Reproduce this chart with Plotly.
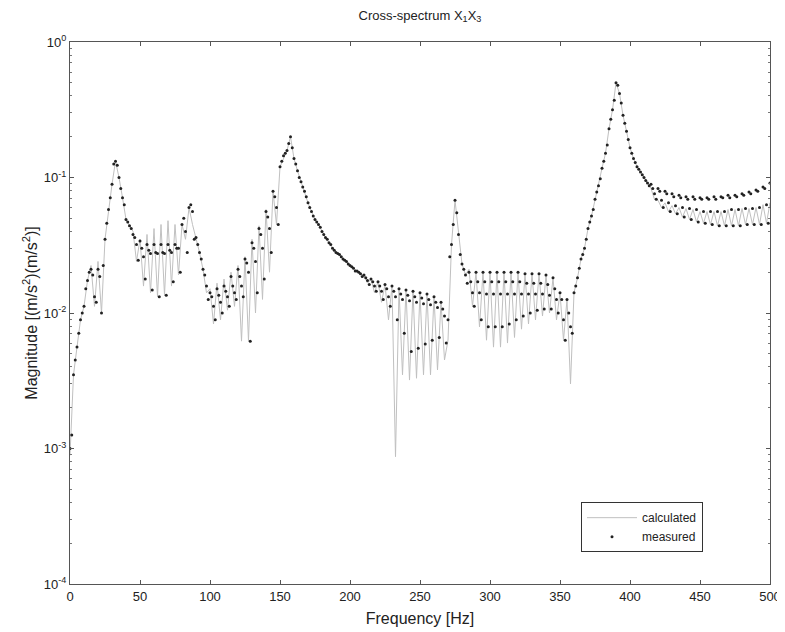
import plotly.graph_objects as go

# Frequency grid (Hz), 5 Hz cells
freq_start, freq_step, n_cells = 0.0, 5.0, 101

# Measured magnitude, four interleaved sample rows per 5 Hz cell
meas_a = [0.0010, 0.0056, 0.0112, 0.021, 0.021, 0.035, 0.089, 0.100, 0.049, 0.038,
          0.034, 0.032, 0.032, 0.032, 0.032, 0.032, 0.045, 0.060, 0.036, 0.021,
          0.0141, 0.0151, 0.0158, 0.0186, 0.021, 0.025, 0.033, 0.042, 0.056, 0.079,
          0.120, 0.158, 0.138, 0.093, 0.065, 0.049, 0.040, 0.033, 0.028, 0.025,
          0.0224, 0.0204, 0.0191, 0.0178, 0.0170, 0.0162, 0.0158, 0.0151, 0.0148, 0.0145,
          0.0141, 0.0138, 0.0132, 0.0120, 0.0089, 0.068, 0.023, 0.020, 0.020, 0.020,
          0.020, 0.020, 0.020, 0.020, 0.020, 0.0195, 0.0195, 0.0195, 0.0191, 0.0182,
          0.0141, 0.0126, 0.0141, 0.025, 0.042, 0.069, 0.117, 0.229, 0.50, 0.288,
          0.166, 0.120, 0.100, 0.089, 0.083, 0.079, 0.076, 0.074, 0.072, 0.072,
          0.071, 0.071, 0.072, 0.072, 0.074, 0.074, 0.076, 0.078, 0.081, 0.085, 0.091]
meas_b = [0.00126, 0.0071, 0.0151, 0.0191, 0.0186, 0.046, 0.126, 0.083, 0.047, 0.036,
          0.030, 0.029, 0.028, 0.028, 0.029, 0.030, 0.050, 0.063, 0.032, 0.0191,
          0.0132, 0.0135, 0.0145, 0.0158, 0.0186, 0.0234, 0.030, 0.038, 0.051, 0.072,
          0.132, 0.178, 0.126, 0.085, 0.060, 0.047, 0.038, 0.032, 0.0275, 0.0245,
          0.0219, 0.0200, 0.0182, 0.0170, 0.0158, 0.0151, 0.0145, 0.0138, 0.0135, 0.0132,
          0.0129, 0.0126, 0.0120, 0.0107, 0.026, 0.055, 0.021, 0.0170, 0.0170, 0.0170,
          0.0170, 0.0170, 0.0170, 0.0170, 0.0170, 0.0166, 0.0166, 0.0166, 0.0162, 0.0151,
          0.0126, 0.0100, 0.0158, 0.027, 0.047, 0.078, 0.132, 0.269, 0.479, 0.251,
          0.151, 0.115, 0.095, 0.083, 0.079, 0.076, 0.072, 0.071, 0.069, 0.069,
          0.069, 0.069, 0.069, 0.071, 0.071, 0.072, 0.074, 0.076, 0.079, 0.083, 0.089]
meas_c = [0.0035, 0.0089, 0.0174, 0.0132, 0.0100, 0.058, 0.132, 0.071, 0.044, 0.032,
          0.026, 0.0275, 0.0275, 0.0275, 0.028, 0.030, 0.040, 0.056, 0.028, 0.0158,
          0.0112, 0.0120, 0.0132, 0.0141, 0.0158, 0.0200, 0.024, 0.030, 0.042, 0.060,
          0.145, 0.200, 0.112, 0.079, 0.056, 0.045, 0.036, 0.030, 0.027, 0.024,
          0.0214, 0.0195, 0.0174, 0.0158, 0.0145, 0.0132, 0.0132, 0.0126, 0.0123, 0.0120,
          0.0117, 0.0115, 0.0110, 0.0095, 0.032, 0.038, 0.0191, 0.0141, 0.0141, 0.0138,
          0.0138, 0.0138, 0.0138, 0.0138, 0.0138, 0.0138, 0.0138, 0.0138, 0.0135, 0.0126,
          0.0089, 0.0079, 0.0182, 0.030, 0.052, 0.087, 0.151, 0.316, 0.417, 0.219,
          0.138, 0.110, 0.091, 0.076, 0.068, 0.065, 0.062, 0.060, 0.059, 0.058,
          0.056, 0.056, 0.056, 0.056, 0.058, 0.058, 0.059, 0.059, 0.060, 0.063, 0.065]
meas_d = [0.0045, 0.0100, 0.0200, 0.0120, 0.0224, 0.071, 0.123, 0.063, 0.042, 0.0245,
          0.0178, 0.0148, 0.0132, 0.0135, 0.0170, 0.0200, 0.028, 0.035, 0.025, 0.0126,
          0.0089, 0.0100, 0.0112, 0.0126, 0.0132, 0.0062, 0.0141, 0.0178, 0.028, 0.045,
          0.151, 0.166, 0.100, 0.072, 0.052, 0.043, 0.035, 0.029, 0.026, 0.023,
          0.0204, 0.0186, 0.0162, 0.0145, 0.0126, 0.0112, 0.0089, 0.0071, 0.0052, 0.0055,
          0.0059, 0.0063, 0.0066, 0.0060, 0.045, 0.027, 0.0166, 0.0112, 0.0089, 0.0079,
          0.0079, 0.0079, 0.0083, 0.0089, 0.0095, 0.0100, 0.0105, 0.0107, 0.0107, 0.0100,
          0.0063, 0.0071, 0.0214, 0.035, 0.058, 0.098, 0.174, 0.372, 0.355, 0.191,
          0.129, 0.105, 0.087, 0.069, 0.060, 0.056, 0.054, 0.051, 0.049, 0.047,
          0.046, 0.045, 0.044, 0.044, 0.044, 0.044, 0.045, 0.045, 0.045, 0.046, 0.047]

# Calculated magnitude: value at cell start and at cell middle
calc_start = [0.00089, 0.0056, 0.0112, 0.0224, 0.024, 0.035, 0.089, 0.100, 0.049, 0.040,
              0.035, 0.038, 0.042, 0.045, 0.048, 0.045, 0.045, 0.060, 0.036, 0.021,
              0.0151, 0.0166, 0.0178, 0.0200, 0.0224, 0.026, 0.035, 0.044, 0.058, 0.079,
              0.120, 0.158, 0.138, 0.093, 0.065, 0.049, 0.040, 0.033, 0.028, 0.025,
              0.0224, 0.0204, 0.0191, 0.0178, 0.0170, 0.0162, 0.0158, 0.0151, 0.0148, 0.0145,
              0.0141, 0.0138, 0.0132, 0.0120, 0.0063, 0.068, 0.023, 0.021, 0.020, 0.020,
              0.020, 0.020, 0.020, 0.020, 0.020, 0.0195, 0.0195, 0.0195, 0.0191, 0.0182,
              0.0141, 0.0126, 0.0141, 0.025, 0.042, 0.069, 0.117, 0.229, 0.50, 0.288,
              0.166, 0.120, 0.100, 0.083, 0.068, 0.065, 0.062, 0.060, 0.059, 0.058,
              0.056, 0.056, 0.056, 0.056, 0.058, 0.058, 0.059, 0.059, 0.060, 0.063, 0.065]
calc_mid = [0.0035, 0.0089, 0.0174, 0.0112, 0.0100, 0.058, 0.132, 0.071, 0.044, 0.024,
            0.0158, 0.0141, 0.0132, 0.0135, 0.0158, 0.0191, 0.035, 0.045, 0.028, 0.0141,
            0.0083, 0.0089, 0.0105, 0.0112, 0.0062, 0.0062, 0.0100, 0.0126, 0.0200, 0.045,
            0.138, 0.200, 0.112, 0.079, 0.056, 0.045, 0.036, 0.030, 0.027, 0.024,
            0.0214, 0.0195, 0.0166, 0.0141, 0.0120, 0.0089, 0.00087, 0.0035, 0.0032, 0.0033,
            0.0035, 0.0035, 0.0038, 0.0045, 0.032, 0.038, 0.0191, 0.0112, 0.0079, 0.0063,
            0.0056, 0.0056, 0.0060, 0.0066, 0.0076, 0.0083, 0.0089, 0.0095, 0.0100, 0.0089,
            0.0063, 0.0030, 0.0182, 0.030, 0.052, 0.087, 0.151, 0.316, 0.417, 0.219,
            0.138, 0.110, 0.091, 0.069, 0.060, 0.056, 0.054, 0.051, 0.049, 0.047,
            0.046, 0.045, 0.044, 0.044, 0.044, 0.044, 0.045, 0.045, 0.045, 0.046, 0.047]

cells = [freq_start + i * freq_step for i in range(n_cells)]

# measured rows sampled at quarter offsets within each cell
mx, my = [], []
for k, row in enumerate([meas_a, meas_b, meas_c, meas_d]):
    for f, v in zip(cells, row):
        mx.append(f + k * freq_step / 4)
        my.append(v)

cx, cy = [], []
for f, v0, v1 in zip(cells, calc_start, calc_mid):
    cx += [f, f + freq_step / 2]
    cy += [v0, v1]

y_tick_vals = [1e-4, 1e-3, 1e-2, 1e-1, 1e0]
y_tick_text = ["10<sup>-4</sup>", "10<sup>-3</sup>", "10<sup>-2</sup>", "10<sup>-1</sup>", "10<sup>0</sup>"]
minor_vals = [k * 10.0 ** e for e in range(-4, 0) for k in range(2, 10)]

fig = go.Figure()
fig.add_trace(go.Scatter(x=cx, y=cy, mode="lines", name="calculated",
                         line=dict(color="#c0c0c0", width=1)))
fig.add_trace(go.Scatter(x=mx, y=my, mode="markers", name="measured",
                         marker=dict(color="#222222", size=3, symbol="circle")))

# page body adds an 8px offset; figure sized so the plot box lands on x 70-770, y 42-584
W, H = 777, 624
txt = "#222222"
fig.update_layout(
    width=W, height=H,
    margin=dict(l=62, r=15, t=34, b=48, autoexpand=False),
    paper_bgcolor="white", plot_bgcolor="white",
    font=dict(family="Liberation Sans, Arial, sans-serif", size=13, color=txt),
    title=dict(text="Cross-spectrum X<sub>1</sub>X<sub>3</sub>", x=0.5, xref="paper",
               xanchor="center", y=1 - 7 / H, yref="container", yanchor="middle",
               font=dict(size=13, color=txt)),
    showlegend=True,
    legend=dict(x=0.73, y=0.151, xanchor="left", yanchor="top",
                bgcolor="white", bordercolor="#333333", borderwidth=1,
                font=dict(size=12, color=txt), itemwidth=50,
                tracegroupgap=0),
)
fig.update_xaxes(range=[0, 500], tickvals=list(range(0, 501, 50)),
                 ticks="inside", ticklen=4, tickcolor="#555555",
                 showline=True, linecolor="#555555", linewidth=1, mirror="allticks",
                 showgrid=False, zeroline=False, automargin=False,
                 title=dict(text="Frequency [Hz]", standoff=10))
fig.update_yaxes(type="log", range=[-4, 0], tickvals=y_tick_vals, ticktext=y_tick_text,
                 ticks="inside", ticklen=4, tickcolor="#555555",
                 minor=dict(tickvals=minor_vals, ticks="inside", ticklen=2, tickcolor="#777777"),
                 showline=True, linecolor="#555555", linewidth=1, mirror="allticks",
                 showgrid=False, zeroline=False, automargin=False,
                 title=dict(text="Magnitude [(m/s<sup>2</sup>)(m/s<sup>2</sup>)]", standoff=2))

fig.write_html("out.html")
